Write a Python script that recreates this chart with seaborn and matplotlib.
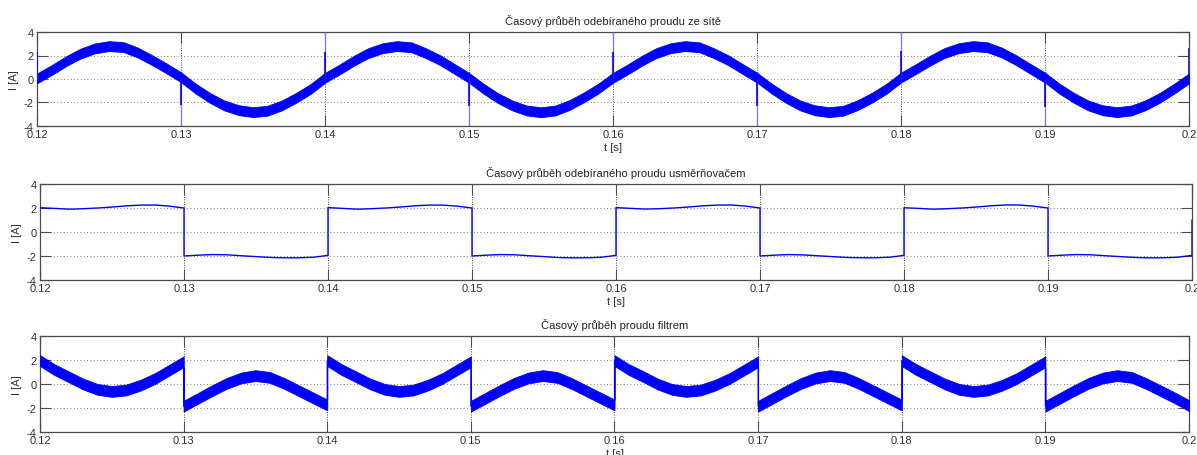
import numpy as np
import pandas as pd
import matplotlib
matplotlib.use("Agg")
import matplotlib.pyplot as plt
import seaborn as sns

# ---------------- data ----------------
titles = ["Časový průběh odebíraného proudu ze sítě",
          "Časový průběh odebíraného proudu usměrňovačem",
          "Časový průběh proudu filtrem"]
x_label = "t [s]"
y_label = "I [A]"
x_ticks = [0.12, 0.13, 0.14, 0.15, 0.16, 0.17, 0.18, 0.19, 0.20]
x_tick_labels = ["0.12", "0.13", "0.14", "0.15", "0.16", "0.17", "0.18", "0.19", "0.2"]
y_ticks = [-4, -2, 0, 2, 4]
y_tick_labels = ["-4", "-2", "0", "2", "4"]

# panel 1: mains current, centre of the rippled band every 1 ms (0.120 ... 0.200 s)
i_grid = [
    0.05, 0.75, 1.50, 2.15, 2.60, 2.80, 2.72, 2.25, 1.60, 0.90,
    0.15, -0.80, -1.60, -2.25, -2.65, -2.82, -2.70, -2.25, -1.60, -0.85,
    0.10, 0.80, 1.55, 2.20, 2.62, 2.80, 2.70, 2.20, 1.60, 0.85,
    0.10, -0.82, -1.62, -2.25, -2.68, -2.83, -2.68, -2.20, -1.55, -0.80,
    0.10, 0.80, 1.55, 2.20, 2.62, 2.80, 2.70, 2.20, 1.60, 0.85,
    0.12, -0.80, -1.60, -2.25, -2.66, -2.82, -2.70, -2.22, -1.58, -0.82,
    0.12, 0.82, 1.55, 2.20, 2.62, 2.80, 2.70, 2.25, 1.60, 0.85,
    0.12, -0.82, -1.60, -2.25, -2.66, -2.82, -2.68, -2.22, -1.58, -0.80,
    0.05]
i_grid_ripple = 0.42            # half height of the ripple band [A]
spike_times = [0.12, 0.13, 0.14, 0.15, 0.16, 0.17, 0.18, 0.19, 0.20]
spike_tips = [2.3, -4.0, 4.0, -4.0, 4.0, -4.0, 4.0, -4.0, 2.6]
spike_mids = [2.3, -2.2, 2.3, -2.3, 2.3, -2.3, 2.4, -2.4, 2.6]

# panel 2: rectifier current, one list per 10 ms segment (values every 1 ms)
i_rect = [
    [2.02, 1.97, 1.90, 1.94, 2.00, 2.08, 2.18, 2.24, 2.25, 2.15, 2.00],
    [-2.00, -1.93, -1.88, -1.90, -1.98, -2.05, -2.12, -2.15, -2.15, -2.10, -1.95],
    [2.03, 1.97, 1.90, 1.94, 2.00, 2.08, 2.18, 2.24, 2.24, 2.15, 2.00],
    [-2.00, -1.93, -1.88, -1.90, -1.98, -2.05, -2.13, -2.15, -2.15, -2.10, -1.95],
    [2.03, 1.97, 1.91, 1.94, 2.00, 2.08, 2.18, 2.24, 2.25, 2.16, 2.00],
    [-2.00, -1.93, -1.88, -1.91, -1.98, -2.05, -2.12, -2.15, -2.15, -2.10, -1.95],
    [2.02, 1.97, 1.90, 1.94, 2.00, 2.08, 2.18, 2.25, 2.25, 2.15, 2.00],
    [-2.00, -1.93, -1.88, -1.90, -1.98, -2.05, -2.12, -2.15, -2.15, -2.10, -1.95],
]
i_rect_end = 1.0                 # value reached at 0.2 s after the last edge

# panel 3: filter current, one list per 10 ms segment (centre of band every 1 ms)
i_filt = [
    [1.95, 1.20, 0.60, 0.00, -0.45, -0.62, -0.50, -0.10, 0.45, 1.15, 1.85],
    [-1.85, -1.20, -0.55, 0.05, 0.50, 0.70, 0.55, 0.05, -0.55, -1.15, -1.75],
    [1.95, 1.20, 0.60, 0.00, -0.45, -0.62, -0.50, -0.10, 0.45, 1.15, 1.85],
    [-1.85, -1.20, -0.55, 0.05, 0.50, 0.70, 0.55, 0.05, -0.55, -1.15, -1.75],
    [1.95, 1.20, 0.62, 0.00, -0.45, -0.62, -0.50, -0.10, 0.45, 1.15, 1.85],
    [-1.85, -1.20, -0.55, 0.05, 0.50, 0.70, 0.55, 0.05, -0.55, -1.15, -1.75],
    [1.95, 1.20, 0.60, 0.00, -0.45, -0.62, -0.50, -0.10, 0.45, 1.15, 1.85],
    [-1.85, -1.20, -0.55, 0.05, 0.50, 0.70, 0.55, 0.05, -0.55, -1.15, -1.80],
]
i_filt_ripple = 0.45

# ---------------- build frames ----------------
t_grid = np.linspace(0.12, 0.20, len(i_grid))
df1 = pd.DataFrame({"t": t_grid, "i": i_grid})


def segments_frame(segs, t0=0.12, seg_len=0.01):
    ts, vs = [], []
    for k, seg in enumerate(segs):
        n = len(seg)
        ts.extend(np.linspace(t0 + k * seg_len, t0 + (k + 1) * seg_len, n))
        vs.extend(seg)
    return pd.DataFrame({"t": ts, "i": vs})


df2 = segments_frame(i_rect)
df2 = pd.concat([df2, pd.DataFrame({"t": [0.20], "i": [i_rect_end]})], ignore_index=True)
df3 = segments_frame(i_filt)

# ---------------- style ----------------
sns.set_style("white")
plt.rcParams['font.family'] = ['Liberation Sans', 'DejaVu Sans']
BLUE = "#0000ff"
LIGHT = "#7777ff"
FRAME = "#4a4a4a"
TXT = "#333333"

fig = plt.figure(figsize=(11.97, 4.56), dpi=100)
W, H = 1197.0, 456.0
ax1 = fig.add_axes([37 / W, 1 - 127 / H, 1152 / W, 94 / H])
ax2 = fig.add_axes([40 / W, 1 - 281 / H, 1152 / W, 96 / H])
ax3 = fig.add_axes([40 / W, 1 - 433 / H, 1149 / W, 96 / H])

# panel 1
ax1.fill_between(df1["t"], df1["i"] - i_grid_ripple, df1["i"] + i_grid_ripple,
                 color=BLUE, lw=0.6, edgecolor=BLUE, zorder=3)
base = np.interp(spike_times, df1["t"], df1["i"])
ax1.vlines(spike_times, base, spike_tips, color=LIGHT, lw=0.9, zorder=4)
ax1.vlines(spike_times, base, spike_mids, color=BLUE, lw=1.2, zorder=5)

# panel 2
sns.lineplot(data=df2, x="t", y="i", ax=ax2, estimator=None, sort=False,
             color=BLUE, lw=1.0, zorder=3)

# panel 3
ax3.fill_between(df3["t"], df3["i"] - i_filt_ripple, df3["i"] + i_filt_ripple,
                 color=BLUE, lw=0.6, edgecolor=BLUE, zorder=3)
sns.lineplot(data=df3, x="t", y="i", ax=ax3, estimator=None, sort=False,
             color=BLUE, lw=0.9, zorder=4)

for ax, title in zip([ax1, ax2, ax3], titles):
    ax.set_xlim(0.12, 0.20)
    ax.set_ylim(-4, 4)
    ax.set_xticks(x_ticks)
    ax.set_xticklabels(x_tick_labels)
    ax.set_yticks(y_ticks)
    ax.set_yticklabels(y_tick_labels)
    ax.tick_params(direction="in", length=8, width=0.8, color=FRAME,
                   top=True, right=True, bottom=True, left=True,
                   labelsize=8, labelcolor=TXT, pad=2.5)
    ax.grid(True, axis="y", color="#555555", linestyle=(0, (1, 3)), linewidth=0.6, zorder=0)
    ax.grid(True, axis="x", color="#444444", linestyle=(0, (1, 1.5)), linewidth=0.7, zorder=0)
    for s in ax.spines.values():
        s.set_color(FRAME)
        s.set_linewidth(0.9)
    ax.set_title(title, fontsize=8, color="#222222", pad=6)
    ax.set_xlabel(x_label, fontsize=8, color=TXT, labelpad=2)
    ax.set_ylabel(y_label, fontsize=8, color=TXT, labelpad=3)

fig.savefig("out.png", dpi=100)
